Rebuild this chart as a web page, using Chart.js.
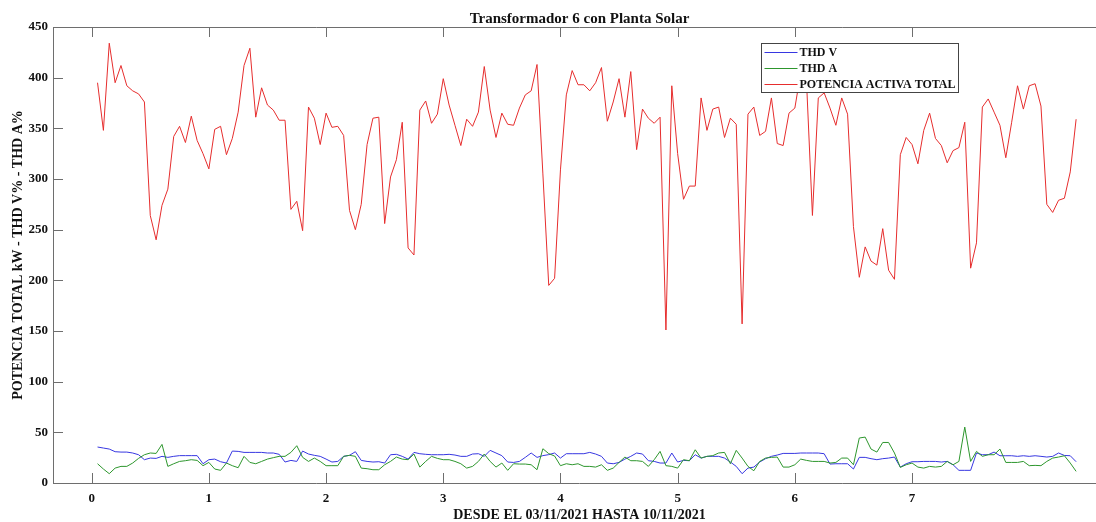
<!DOCTYPE html>
<html>
<head>
<meta charset="utf-8">
<title>Transformador 6 con Planta Solar</title>
<script src="https://cdn.jsdelivr.net/npm/chart.js@4/dist/chart.umd.min.js"></script>
<style>
  html, body { margin: 0; padding: 0; background: #fff; overflow: hidden; }
  /* the axes box runs a little past the right edge of the window */
  #wrap { width: 1106px; height: 522px; }
</style>
</head>
<body>
<div id="wrap"><canvas id="grafico"></canvas></div>
<script>
// Series horarias (una muestra por hora, 168 h)
var thdV = [
  35.5, 34.5, 33.5, 30.9, 30.5, 30.5, 29.6, 27.9, 23.0, 24.6, 24.3, 26.3, 25.3, 26.3, 27.0, 27.0, 27.0, 27.0, 19.0, 23.0,
  23.6, 21.0, 19.7, 31.5, 31.2, 30.2, 30.2, 30.2, 30.2, 29.6, 29.6, 28.3, 20.7, 22.3, 21.3, 31.5, 28.6, 27.3, 26.3, 23.6,
  20.7, 21.3, 26.3, 27.3, 30.9, 22.3, 21.3, 20.7, 21.0, 19.7, 27.9, 28.3, 26.3, 23.6, 30.2, 28.9, 28.3, 27.9, 27.9, 27.9,
  28.3, 27.6, 26.3, 26.3, 28.6, 28.9, 26.3, 32.2, 29.6, 27.0, 20.7, 20.3, 21.3, 25.3, 29.6, 25.3, 27.0, 28.0, 29.6, 24.6,
  28.9, 28.9, 28.9, 28.9, 30.2, 28.6, 26.3, 19.7, 19.0, 20.3, 23.6, 26.3, 29.6, 28.6, 22.0, 21.3, 19.7, 19.7, 29.6, 20.7,
  22.3, 22.0, 27.9, 24.6, 26.3, 26.3, 26.3, 24.6, 20.7, 16.4, 9.2, 14.7, 15.7, 20.7, 24.0, 26.3, 27.6, 29.2, 29.2, 29.2,
  29.6, 29.6, 29.6, 29.6, 28.9, 18.7, 19.0, 19.0, 19.0, 13.8, 25.3, 25.3, 24.0, 23.0, 24.0, 24.6, 25.6, 15.7, 19.0, 21.0,
  21.0, 21.3, 21.3, 21.3, 20.7, 21.3, 18.0, 12.5, 12.5, 12.5, 29.6, 27.9, 27.9, 30.5, 26.9, 26.9, 26.9, 26.3, 26.9, 26.3,
  26.9, 26.3, 25.6, 26.3, 29.6, 27.2, 26.9, 21.0
];
var thdA = [
  19.0, 13.8, 9.2, 14.7, 16.4, 16.4, 19.7, 24.3, 27.9, 29.6, 29.2, 38.1, 16.4, 19.0, 21.3, 22.0, 23.0, 22.3, 17.1, 20.3,
  13.8, 12.5, 19.7, 17.1, 15.1, 26.3, 20.3, 19.0, 21.3, 23.6, 25.0, 26.3, 26.3, 30.2, 36.8, 25.3, 21.3, 24.6, 21.3, 17.1,
  17.1, 17.1, 26.3, 27.3, 26.3, 14.7, 14.1, 13.1, 13.1, 18.0, 21.3, 25.6, 23.6, 23.0, 28.6, 15.7, 21.3, 26.3, 24.3, 23.0,
  23.0, 21.3, 19.0, 14.7, 16.4, 21.3, 28.6, 21.3, 15.7, 19.7, 12.5, 19.0, 18.7, 18.7, 18.0, 13.1, 33.8, 29.0, 26.6, 17.1,
  19.0, 18.0, 19.0, 16.4, 16.4, 15.7, 18.0, 12.5, 14.7, 20.3, 25.6, 22.0, 22.0, 21.3, 16.4, 23.0, 31.2, 17.1, 16.4, 14.7,
  23.0, 22.0, 32.8, 24.6, 26.3, 27.0, 29.6, 30.2, 19.0, 32.2, 24.6, 16.4, 12.1, 21.3, 24.6, 25.3, 25.6, 15.7, 15.7, 18.0,
  23.6, 22.3, 21.3, 21.3, 21.3, 19.7, 20.3, 24.6, 24.6, 18.0, 44.4, 45.3, 33.5, 30.5, 40.0, 40.0, 29.6, 15.4, 18.0, 19.7,
  15.7, 14.7, 16.4, 15.7, 16.4, 21.3, 18.0, 21.3, 55.2, 21.3, 31.2, 26.3, 27.9, 27.9, 33.5, 20.3, 20.3, 20.3, 21.3, 17.1,
  17.4, 17.1, 21.3, 24.6, 25.6, 26.9, 19.7, 11.5
];
var potencia = [
  395, 348, 434, 395, 412, 392, 387, 384, 376, 264, 240, 274, 290, 342, 352, 336, 362, 338, 325, 310,
  349, 352, 324, 340, 366, 412, 429, 361, 390, 373, 368, 358, 358, 270, 278, 249, 371, 360, 334, 365,
  351, 352, 343, 269, 250, 275, 334, 360, 361, 256, 302, 319, 356, 232, 225, 368, 377, 355, 364, 399,
  373, 353, 333, 359, 352, 366, 411, 368, 341, 365, 354, 353, 370, 383, 387, 413, 305, 195, 202, 309,
  383, 407, 393, 393, 387, 395, 410, 357, 376, 399, 361, 406, 329, 369, 360, 355, 361, 151, 392, 325,
  280, 293, 293, 380, 348, 369, 371, 341, 360, 354, 157, 364, 371, 343, 347, 380, 335, 333, 365, 370,
  405, 395, 264, 380, 385, 370, 353, 380, 364, 253, 203, 233, 219, 215, 251, 210, 201, 324, 341, 334,
  315, 348, 365, 340, 333, 316, 328, 331, 356, 212, 237, 371, 379, 366, 353, 321, 356, 392, 369, 392,
  394, 372, 275, 267, 279, 281, 307, 359
];
var ticksX = [0, 1, 2, 3, 4, 5, 6, 7];
var ticksY = [0, 50, 100, 150, 200, 250, 300, 350, 400, 450];

// eje x: horas / 20
var horas = potencia.map(function (v, k) { return (k + 1) / 20; });

function puntos(serie) {
  return serie.map(function (v, k) { return { x: horas[k], y: v }; });
}

var FUENTE = "'Liberation Serif', 'Times New Roman', serif";
var COLOR_EJE = '#6e6e6e';
var TICK = 10;

// caja, marcas de los ejes hacia dentro
var ejesPlugin = {
  id: 'ejes',
  afterDatasetsDraw: function (chart) {
    var ctx = chart.ctx, a = chart.chartArea;
    var sx = chart.scales.x, sy = chart.scales.y;
    ctx.save();
    ctx.strokeStyle = COLOR_EJE;
    ctx.lineWidth = 1;
    ctx.beginPath();
    ctx.moveTo(Math.round(a.left) + 0.5, a.top);
    ctx.lineTo(Math.round(a.left) + 0.5, a.bottom);
    ctx.moveTo(Math.round(a.right) - 0.5, a.top);
    ctx.lineTo(Math.round(a.right) - 0.5, a.bottom);
    ctx.moveTo(a.left, Math.round(a.bottom) + 0.5);
    ctx.lineTo(a.right, Math.round(a.bottom) + 0.5);
    ctx.moveTo(a.left, Math.round(a.top) + 0.5);
    ctx.lineTo(a.right, Math.round(a.top) + 0.5);
    ticksX.forEach(function (v) {
      var px = Math.round(sx.getPixelForValue(v)) + 0.5;
      ctx.moveTo(px, a.bottom);
      ctx.lineTo(px, a.bottom - TICK);
      ctx.moveTo(px, a.top);
      ctx.lineTo(px, a.top + TICK);
    });
    ticksY.forEach(function (v) {
      var py = Math.round(sy.getPixelForValue(v)) + 0.5;
      ctx.moveTo(a.left, py);
      ctx.lineTo(a.left + TICK, py);
      ctx.moveTo(a.right, py);
      ctx.lineTo(a.right - TICK, py);
    });
    ctx.stroke();
    ctx.restore();
  }
};

// leyenda con fondo blanco dentro del area de trazado
var leyendaPlugin = {
  id: 'leyenda',
  afterDatasetsDraw: function (chart) {
    var ctx = chart.ctx;
    var x0 = 761.5, y0 = 43.5, w = 197, h = 49;
    ctx.save();
    ctx.fillStyle = '#fff';
    ctx.fillRect(x0, y0, w, h);
    ctx.strokeStyle = '#444';
    ctx.lineWidth = 1;
    ctx.strokeRect(x0, y0, w, h);
    ctx.font = 'bold 12px ' + FUENTE;
    ctx.textBaseline = 'middle';
    ctx.fillStyle = '#111';
    chart.data.datasets.forEach(function (ds, k) {
      var y = Math.round(y0 + 8.5 + k * 16.2) + 0.5;
      ctx.strokeStyle = ds.borderColor;
      ctx.beginPath();
      ctx.moveTo(x0 + 3, y);
      ctx.lineTo(x0 + 36, y);
      ctx.stroke();
      ctx.fillText(ds.label, x0 + 38, y + 0.5);
    });
    ctx.restore();
  }
};

new Chart(document.getElementById('grafico'), {
  type: 'line',
  data: {
    datasets: [
      { label: 'THD V', data: puntos(thdV), borderColor: 'rgb(55,55,225)', order: 2 },
      { label: 'THD A', data: puntos(thdA), borderColor: 'rgb(45,150,45)', order: 1 },
      { label: 'POTENCIA ACTIVA TOTAL', data: puntos(potencia), borderColor: 'rgb(230,45,45)', order: 0 }
    ]
  },
  options: {
    responsive: true,
    maintainAspectRatio: false,
    animation: false,
    events: [],
    elements: {
      line: { borderWidth: 1, tension: 0, fill: false },
      point: { radius: 0 }
    },
    layout: { padding: 0 },
    plugins: {
      legend: { display: false },
      tooltip: { enabled: false },
      title: {
        display: true,
        text: 'Transformador 6 con Planta Solar',
        fullSize: false,
        color: '#111',
        font: { family: FUENTE, size: 15, weight: 'bold', lineHeight: 1.2 },
        padding: { top: 10, bottom: -1 }
      }
    },
    scales: {
      x: {
        type: 'linear',
        min: -0.33,
        max: 8.655,
        afterBuildTicks: function (s) { s.ticks = ticksX.map(function (v) { return { value: v }; }); },
        afterFit: function (s) { s.height = 39; },
        grid: { display: false, drawTicks: false, tickLength: 0 },
        border: { display: false },
        ticks: {
          color: '#111',
          padding: 8,
          maxRotation: 0,
          font: { family: FUENTE, size: 13, weight: 'bold' }
        },
        title: {
          display: true,
          text: 'DESDE EL 03/11/2021 HASTA 10/11/2021',
          color: '#111',
          font: { family: FUENTE, size: 14, weight: 'bold', lineHeight: 1.2 },
          padding: { top: 0, bottom: -2 }
        }
      },
      y: {
        min: 0,
        max: 450,
        afterBuildTicks: function (s) { s.ticks = ticksY.map(function (v) { return { value: v }; }); },
        afterFit: function (s) { s.width = 53; },
        grid: { display: false, drawTicks: false, tickLength: 0 },
        border: { display: false },
        ticks: {
          color: '#111',
          padding: 5,
          font: { family: FUENTE, size: 13, weight: 'bold' }
        },
        title: {
          display: true,
          text: 'POTENCIA TOTAL kW - THD V% - THD A%',
          color: '#111',
          font: { family: FUENTE, size: 14, weight: 'bold', lineHeight: 1.2 },
          padding: { top: 9.6, bottom: 0 }
        }
      }
    }
  },
  plugins: [ejesPlugin, leyendaPlugin]
});
</script>
</body>
</html>
